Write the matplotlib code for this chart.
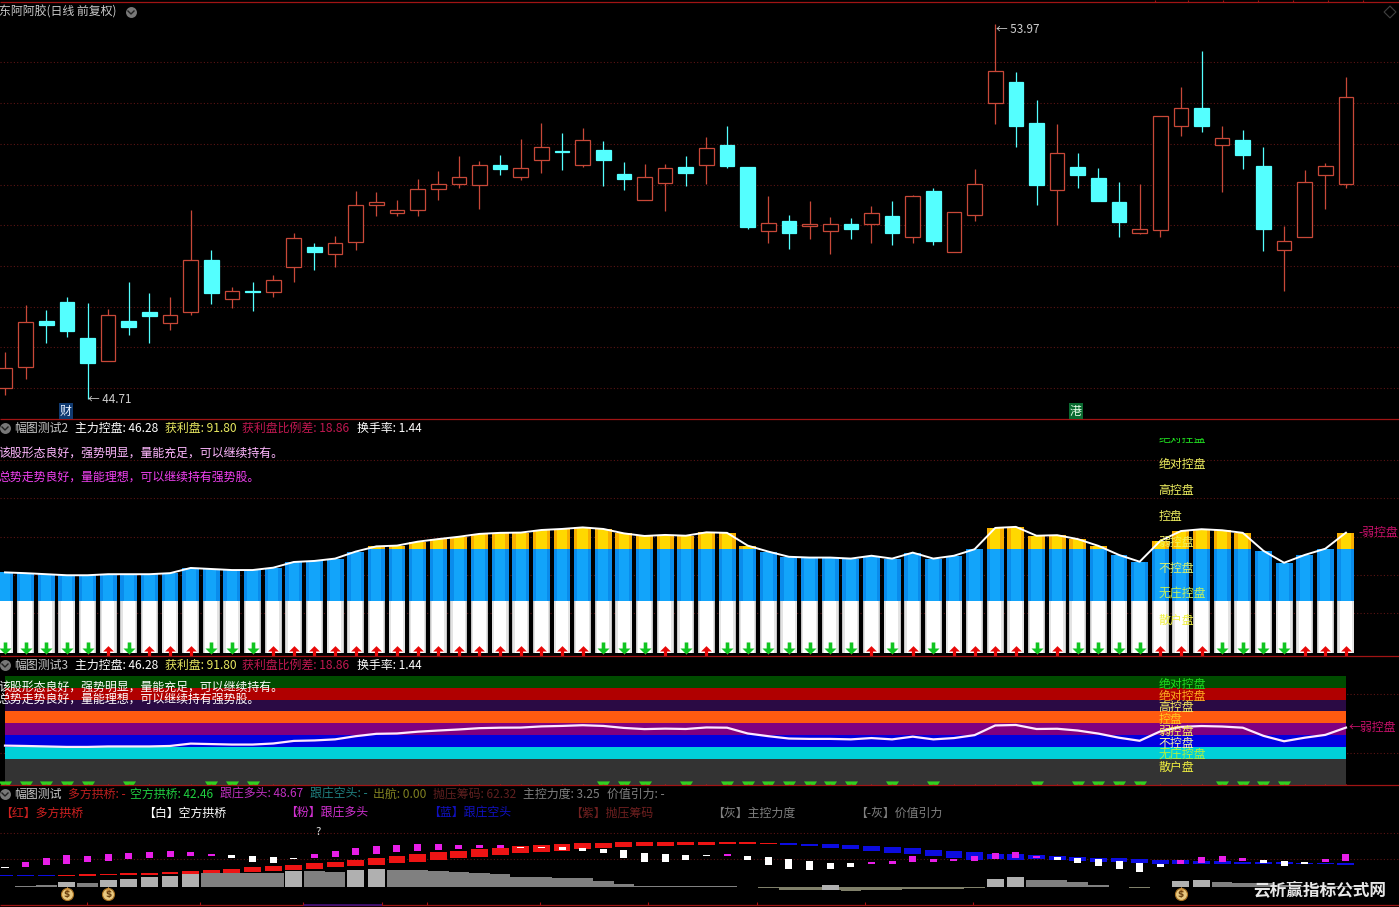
import matplotlib

matplotlib.use("Agg")
import matplotlib.pyplot as plt
import numpy as np
from matplotlib.path import Path
from matplotlib.transforms import Bbox, ScaledTranslation

plt.rcParams["font.family"] = ["Noto Sans CJK SC", "DejaVu Sans"]
plt.rcParams["axes.unicode_minus"] = False

# daily candles, top and bottom of the body plus wicks
body_top = [45.47, 46.61, 46.64, 47.10, 46.21, 46.78, 46.63, 46.86, 46.78, 48.14, 48.14, 47.37, 47.37, 47.65, 48.68,
            48.46, 48.56, 49.50, 49.58, 49.37, 49.89, 50.01, 50.19, 50.48, 50.49, 50.41, 50.93, 50.83, 51.10, 50.85,
            50.26, 50.19, 50.41, 50.43, 50.90, 50.98, 50.43, 49.05, 49.10, 49.03, 49.03, 49.03, 49.30, 49.23, 49.72,
            49.85, 49.32, 50.01, 52.80, 52.53, 51.52, 50.79, 50.43, 50.16, 49.57, 48.90, 51.69, 51.89, 51.89, 51.15,
            51.10, 50.47, 48.61, 50.06, 50.46, 52.16]
body_bot = [44.98, 45.50, 46.53, 46.40, 45.61, 45.65, 46.48, 46.75, 46.58, 46.85, 47.34, 47.18, 47.36, 47.36, 47.97,
            48.33, 48.30, 48.58, 49.49, 49.30, 49.37, 49.89, 50.01, 50.00, 50.40, 50.20, 50.62, 50.82, 50.50, 50.62,
            50.13, 49.63, 50.05, 50.28, 50.50, 50.47, 48.97, 48.87, 48.80, 48.99, 48.87, 48.92, 49.02, 48.82, 48.72,
            48.62, 48.33, 49.26, 52.01, 51.44, 50.00, 49.88, 50.25, 49.61, 49.07, 48.80, 48.89, 51.44, 51.46, 50.99,
            50.74, 48.92, 48.38, 48.70, 50.24, 50.01]
highs = [45.88, 47.04, 46.91, 47.22, 47.08, 46.94, 47.59, 47.34, 47.22, 49.38, 48.38, 47.48, 47.59, 47.78, 48.82,
         48.57, 48.74, 49.85, 49.81, 49.63, 50.15, 50.33, 50.70, 50.59, 50.74, 51.13, 51.52, 51.27, 51.40, 51.07,
         50.57, 50.51, 50.52, 50.72, 51.19, 51.44, 50.43, 49.73, 49.26, 49.59, 49.20, 49.18, 49.48, 49.61, 49.75,
         49.93, 49.34, 50.38, 53.97, 52.79, 52.09, 51.50, 50.79, 50.41, 50.08, 50.01, 51.69, 52.41, 53.29, 51.44,
         51.35, 50.92, 48.99, 50.37, 50.53, 52.66]
lows = [44.82, 45.21, 46.10, 46.25, 44.71, 45.65, 46.30, 46.09, 46.42, 46.79, 47.07, 46.97, 46.89, 47.22, 47.60,
        47.90, 47.98, 48.38, 49.22, 49.22, 49.22, 49.63, 49.93, 49.41, 50.24, 50.12, 50.29, 50.37, 50.45, 49.97,
        49.87, 49.63, 49.36, 49.97, 50.02, 50.42, 48.91, 48.56, 48.41, 48.66, 48.29, 48.66, 48.56, 48.51, 48.56,
        48.51, 48.33, 49.11, 51.50, 50.92, 49.50, 49.01, 49.92, 49.60, 48.71, 48.78, 48.71, 51.21, 51.30, 49.81,
        50.39, 48.37, 47.38, 48.70, 49.41, 49.93]
falling = [2, 3, 4, 6, 7, 10, 12, 15, 24, 27, 29, 30, 33, 35, 36, 38, 41, 43, 45, 49, 50, 52, 53, 54, 58, 60, 61]
price_grid = [53.02, 52.01, 51.00, 50.00, 49.00, 47.99, 46.99, 45.99, 44.99]

# main force control line shared by the two middle panes
control = [31.0, 30.7, 30.3, 29.9, 29.9, 30.3, 30.3, 30.3, 30.7, 32.7, 32.3, 31.9, 31.9, 32.8, 35.0, 35.4, 36.3, 39.0,
           41.0, 41.3, 42.8, 43.8, 44.7, 45.8, 46.2, 46.3, 47.3, 47.7, 48.3, 47.7, 46.0, 45.0, 45.4, 45.1, 46.4, 46.2,
           41.3, 39.0, 37.0, 36.7, 36.7, 36.3, 37.4, 36.3, 38.6, 36.3, 37.4, 39.9, 48.1, 48.5, 45.1, 45.3, 43.8, 41.2,
           37.7, 35.1, 43.1, 46.9, 47.6, 47.2, 46.2, 39.3, 34.7, 37.7, 40.1, 46.28]
green_days = [0, 1, 2, 3, 4, 6, 10, 11, 12, 29, 30, 31, 33, 35, 36, 37, 38, 39, 40, 41, 43, 45, 50, 52, 53, 54, 55, 59,
              60, 61, 62]
level_values = [80, 70, 60, 50, 40, 30, 20, 10]
level_names = ["绝对控盘", "绝对控盘", "高控盘", "控盘", "弱控盘", "不控盘", "无庄控盘", "散户盘"]
level_colors2 = ["#20e020", "#f0f060", "#f0f060", "#f0f060", "#f0f060", "#d8f070", "#c0f060", "#f0f040"]
level_colors3 = ["#20e020", "#ffb020", "#f8f060", "#ffc820", "#f8f060", "#f8f8a0", "#b0f040", "#f0f040"]
band_edges = [90, 80, 70, 60, 50, 40, 30, 20, -2]
band_colors = ["#004c00", "#b00000", "#2a0a44", "#ff5a10", "#800080", "#0000e0", "#00d0d8", "#333333"]

# bottom pane
bridge_high = [24.0, 23.3, 23.3, 23.3, 26.0, 25.3, 27.3, 26.7, 29.3, 31.3, 33.3, 35.3, 39.3, 41.3, 43.3, 47.3, 49.3,
               53.3, 56.7, 61.3, 64.7, 68.7, 71.3, 74.7, 78.0, 81.3, 83.3, 85.3, 87.3, 87.3, 89.3, 90.0, 90.0, 89.3,
               89.3, 89.3, 89.3, 87.3, 87.3, 85.3, 85.3, 83.3, 81.3, 79.3, 77.3, 73.3, 71.3, 69.3, 66.0, 64.7, 63.3,
               61.3, 59.3, 57.3, 56.7, 55.3, 53.3, 52.7, 51.3, 51.3, 49.3, 48.7, 48.7, 48.0, 47.3, 46.7]
bridge_low = [22.0, 22.0, 22.0, 22.0, 21.3, 23.3, 23.3, 22.7, 25.3, 25.3, 27.3, 27.3, 29.3, 30.7, 33.3, 35.3, 39.3,
              41.3, 43.3, 47.3, 50.0, 53.3, 56.7, 59.3, 63.3, 66.7, 69.3, 72.0, 75.3, 77.3, 79.3, 81.3, 81.3, 83.3,
              83.3, 85.3, 86.0, 85.3, 83.3, 82.0, 77.3, 75.3, 71.3, 67.3, 65.3, 61.3, 57.3, 53.3, 55.3, 54.0, 55.3,
              54.0, 51.3, 49.3, 48.7, 47.3, 45.3, 45.3, 46.0, 46.0, 46.0, 46.0, 45.3, 44.7, 44.7, 44.0]
blue_days = [0, 1, 2] + list(range(38, 66))
follow_high = [40.0, 49.3, 56.7, 63.3, 61.3, 65.3, 67.3, 69.3, 71.3, 70.0, 65.3, 63.3, 61.3, 59.3, 58.0, 65.3, 71.3,
               77.3, 81.3, 83.3, 85.3, 85.3, 83.3, 83.3, 83.3, 80.0, 80.0, 79.3, 77.3, 75.3, 73.3, 67.3, 65.3, 63.3,
               63.3, 65.3, 61.3, 59.3, 55.3, 51.3, 47.3, 47.3, 49.3, 51.3, 61.3, 55.3, 55.3, 61.3, 67.3, 69.3, 61.3,
               60.0, 57.3, 55.3, 51.3, 47.3, 45.3, 53.3, 59.3, 61.3, 57.3, 53.3, 51.3, 49.3, 55.3, 65.3]
follow_low = [36.7, 39.3, 43.3, 45.3, 49.3, 51.3, 55.3, 57.3, 59.3, 61.3, 61.3, 57.3, 49.3, 47.3, 56.0, 57.3, 59.3,
              63.3, 65.3, 69.3, 71.3, 73.3, 75.3, 77.3, 77.3, 78.0, 78.0, 73.3, 71.3, 67.3, 57.3, 49.3, 49.3, 53.3,
              61.3, 61.3, 53.3, 43.3, 35.3, 33.3, 35.3, 39.3, 45.3, 45.3, 49.3, 49.3, 51.3, 51.3, 55.3, 57.3, 57.3,
              53.3, 47.3, 41.3, 35.3, 29.3, 39.3, 45.3, 47.3, 49.3, 51.3, 47.3, 41.3, 45.3, 49.3, 51.3]
white_days = [0, 11, 12, 13, 14] + list(range(25, 35)) + [36, 37, 38, 39, 40, 41, 51, 52, 53, 54, 55, 56, 61, 62, 63]
power_high = [0, 0.5, 3.3, 10.0, 8.0, 13.3, 15.3, 20.0, 22.0, 26.7, 28.0, 28.0, 28.0, 26.7, 31.3, 31.3, 30.0, 33.3,
              35.3, 33.3, 33.3, 31.3, 28.7, 26.7, 25.3, 20.0, 20.0, 18.0, 16.7, 11.3, 6.0, 2.0, 1.3, 0.5, 0.5, 0.5, 0,
              0, 0, 0, 3.3, 0, 0, 0, 0, 0, 0, 0, 15.3, 19.3, 13.3, 13.3, 8.7, 3.3, 0, 0, 0, 12.0, 13.3, 10.0, 8.0, 6.7,
              3.3, 1.3, 0.5, 0.5]
power_low = [-1.3, 0, 0, 0, 0, 0, 0, 0, 0, 0, 0, 0, 0, 0, 0, 0, 0, 0, 0, 0, 0, 0, 0, 0, 0, 0, 0, 0, 0, 0, 0, 0, 0, 0, 0,
             0, -1.3, -3.3, -6.0, -7.3, -7.3, -8.0, -6.7, -6.7, -4.7, -4.7, -4.7, -2.0, 0, 0, 0, 0, 0, 0, -1.3, -3.3,
             -1.3, 0, 0, 0, 0, 0, 0, 0, 0, 0]
bright_days = [3, 5, 6, 7, 8, 9, 14, 17, 18, 40, 48, 49, 57, 58]
bag_days = [3, 5, 57]

# header texts: x pixel, text, colour
title_items = [(-1, "东阿阿胶(日线 前复权)", "#c8c8c8")]
control_items = [(75, "主力控盘: 46.28", "#ffffff"), (165, "获利盘: 91.80", "#e8e860"),
                 (242, "获利盘比例差: 18.86", "#c01850"), (357, "换手率: 1.44", "#ffffff")]
bottom_items = [(14, "幅图测试", "#c8c8c8"), (68, "多方拱桥: -", "#c02020"), (130, "空方拱桥: 42.46", "#20d040"),
                (220, "跟庄多头: 48.67", "#c030c0"), (310, "跟庄空头: -", "#208080"), (373, "出航: 0.00", "#808020"),
                (433, "抛压筹码: 62.32", "#602020"), (523, "主控力度: 3.25", "#808080"),
                (607, "价值引力: -", "#808080")]
legend_items = [(0, "【红】多方拱桥", "#d02020"), (143, "【白】空方拱桥", "#ffffff"), (285, "【粉】跟庄多头", "#d030d0"),
                (428, "【蓝】跟庄空头", "#1010c0"), (570, "【紫】抛压筹码", "#702020"), (712, "【灰】主控力度", "#808080"),
                (855, "【-灰】价值引力", "#808080")]

WIDTH, HEIGHT = 1399, 907
RED_LINE = "#a01414"
GRID = "#5a1414"
days = np.arange(len(control))
fig = plt.figure(figsize=(WIDTH / 100, HEIGHT / 100), dpi=100, facecolor="black")


def make_pane(top, bottom, ymin, ymax):
    ax = fig.add_axes([0, 1 - bottom / HEIGHT, 1, (bottom - top) / HEIGHT], facecolor="black")
    ax.set_xlim(-5 / 20.63, (WIDTH - 5) / 20.63)
    ax.set_ylim(ymin, ymax)
    ax.axis("off")
    return ax


def dotted(ax, levels):
    ax.hlines(levels, *ax.get_xlim(), colors=GRID, linewidth=0.8, linestyles=(0, (1, 2)), zorder=0)


def level_labels(ax, colors, lift_px):
    offset = ScaledTranslation(0, lift_px / 100, fig.dpi_scale_trans)
    out = []
    for value, name, color in zip(level_values, level_names, colors):
        out.append(ax.text(55.9, value, name, color=color, fontsize=8.6, va="center", zorder=8,
                           transform=ax.transData + offset))
    return out


# price pane
ax1 = make_pane(2, 419, 44.22, 54.51)
dotted(ax1, price_grid)
for i in days:
    down = i in falling
    color = "#54ffff" if down else "#c84838"
    ax1.vlines(i, lows[i], highs[i], color=color, linewidth=0.9, zorder=2)
    ax1.bar(i, body_top[i] - body_bot[i], bottom=body_bot[i], width=0.71, facecolor=color if down else "black",
            edgecolor=color, linewidth=0.9, zorder=3)
ax1.text(4.02, 44.71, "← 44.71", color="#d0d0d0", fontsize=8.4, va="center")
ax1.text(48.05, 53.84, "← 53.97", color="#d0d0d0", fontsize=8.4, va="center")

# control bars
ax2 = make_pane(420, 655, -0.77, 89.6)
dotted(ax2, [74.2, 59.6, 44.6, 30, 15.4])
control_arr = np.array(control)
for w, c in [(0.82, "#c4c4c4"), (0.74, "#e4e4e4"), (0.6, "#ffffff")]:
    ax2.bar(days, 20, width=w, color=c, zorder=2)
ax2.bar(days, np.minimum(control_arr, 40) - 20, bottom=20, width=0.82, color="#0a8cec", zorder=2)
ax2.bar(days, np.minimum(control_arr, 40) - 20, bottom=20, width=0.5, color="#12a4fa", zorder=2)
over = control_arr > 40
ax2.bar(days[over], control_arr[over] - 40, bottom=40, width=0.82, color="#f8ae00", zorder=2)
ax2.bar(days[over], control_arr[over] - 40, bottom=40, width=0.5, color="#ffd800", zorder=2)
ax2.plot(days, control, color="white", linewidth=1.4, zorder=4)

down_arrow = Path([(-0.3, 1), (0.3, 1), (0.3, 0), (1, 0), (0, -1), (-1, 0), (-0.3, 0), (-0.3, 1)], closed=True)
up_arrow = Path([(-0.3, -1), (0.3, -1), (0.3, 0), (1, 0), (0, 1), (-1, 0), (-0.3, 0), (-0.3, -1)], closed=True)
trapezoid = Path([(-1, 0.32), (1, 0.32), (0.6, -0.32), (-0.6, -0.32), (-1, 0.32)], closed=True)
is_green = np.isin(days, green_days)
ax2.scatter(days[is_green], np.full(is_green.sum(), 2.1), marker=down_arrow, s=75, color="#10c420", linewidths=0, zorder=5)
ax2.scatter(days[~is_green], np.full((~is_green).sum(), 0.7), marker=up_arrow, s=60, color="#e80808", linewidths=0, zorder=5)
ax2.text(65.6, control[-1], "-弱控盘", color="#c8106a", fontsize=8.6, va="center")
ax2.vlines(days, -0.77, -0.2, color="#d02020", linewidth=0.8, zorder=6)
for k, t in enumerate(level_labels(ax2, level_colors2, 6.5)):
    if k == 0:
        # topmost label is cut off by the pane's drawing window
        t.set_clip_box(Bbox([[0, HEIGHT - 655], [WIDTH, HEIGHT - 438]]))
        t.set_clip_on(True)

# band pane
ax3 = make_pane(656, 785, -2.4, 107.0)
dotted(ax3, [74.7, 24.7])
for hi, lo, c in zip(band_edges[:-1], band_edges[1:], band_colors):
    ax3.fill_between([days[0], days[-1]], lo, hi, color=c, linewidth=0, zorder=1)
ax3.plot(days, control, color="#ffe8ff", linewidth=1.6, zorder=4)
ax3.scatter(days[is_green], np.full(is_green.sum(), -0.6), marker=trapezoid, s=88, color="#30d020", linewidths=0, zorder=5)
ax3.text(65.15, control[-1], "←弱控盘", color="#c8106a", fontsize=8.6, va="center")
ax3.vlines(days, -2.4, -1.4, color="#d02020", linewidth=0.8, zorder=6)
level_labels(ax3, level_colors3, 3.5)

# bottom pane
ax4 = make_pane(786, 905, -36.6, 201.4)
dotted(ax4, [108, 55.4])
bright = np.isin(days, bright_days)
p_hi, p_lo = np.array(power_high), np.array(power_low)
ax4.bar(days[~bright], np.maximum(p_hi[~bright], 0), width=1.0, color="#808080", zorder=1)
ax4.bar(days, np.minimum(p_lo, 0), width=1.0, color="#80806a", zorder=1)
ax4.bar(days[bright], p_hi[bright] - p_lo[bright], bottom=p_lo[bright], width=0.82, color="#b0b0b0", zorder=2)

is_blue = np.isin(days, blue_days)
b_hi, b_lo = np.array(bridge_high), np.array(bridge_low)
ax4.bar(days[~is_blue], (b_hi - b_lo)[~is_blue], bottom=b_lo[~is_blue], width=0.82, color="#ee1414", zorder=3)
ax4.bar(days[is_blue], (b_hi - b_lo)[is_blue], bottom=b_lo[is_blue], width=0.82, color="#0c0ce0", zorder=3)

is_white = np.isin(days, white_days)
f_hi, f_lo = np.array(follow_high), np.array(follow_low)
ax4.bar(days[is_white], (f_hi - f_lo)[is_white], bottom=f_lo[is_white], width=0.34, color="white", zorder=4)
ax4.bar(days[~is_white], (f_hi - f_lo)[~is_white], bottom=f_lo[~is_white], width=0.34, color="#e81ee8", zorder=4)

ax4.scatter(bag_days, [-15.5] * len(bag_days), s=75, color="#e8c880", edgecolors="#a87020", linewidths=0.8, zorder=5)
ax4.scatter(bag_days, [-5.5] * len(bag_days), s=16, marker="^", color="#c89040", linewidths=0, zorder=5)
for d in bag_days:
    ax4.text(d, -15.5, "$", color="#6a4010", fontsize=6.5, fontweight="bold", ha="center", va="center",
             family="DejaVu Sans", zorder=6)

# overlay in pixel coordinates for separators, headers and legends
over_ax = fig.add_axes([0, 0, 1, 1], facecolor="none", zorder=10)
over_ax.set_xlim(0, WIDTH)
over_ax.set_ylim(HEIGHT, 0)
over_ax.axis("off")
over_ax.hlines([2, 419, 655.5, 785, 904.5], 0, WIDTH, colors=RED_LINE, linewidth=0.9)
over_ax.hlines([904.5], 303, 382, colors="#401080", linewidth=1.2)
over_ax.vlines([87, 200, 303, 382, 427, 540, 648, 757, 865, 973], 902, 905, colors=RED_LINE, linewidth=0.8)
over_ax.vlines([1155, 1188, 1223, 1258, 1293, 1328, 1363], 0, 2, colors=RED_LINE, linewidth=0.8)
over_ax.scatter([131, 5, 5, 5], [12, 428, 665, 794], s=62, color="#787878", linewidths=0)
for x, y in [(131, 12), (5, 428), (5, 665), (5, 794)]:
    over_ax.plot([x - 3, x, x + 3], [y - 1, y + 2, y - 1], color="#202020", linewidth=1.0)
over_ax.scatter([1390], [12], marker="D", s=36, facecolors="none", edgecolors="#404040", linewidths=0.8)


def put(x, y, text, color, size=8.6, **kw):
    over_ax.text(x, y, text, color=color, fontsize=size, va="center", **kw)


for x, text, color in title_items:
    put(x, 12, text, color)
put(14, 428, "幅图测试2", "#c8c8c8")
put(14, 665, "幅图测试3", "#c8c8c8")
for y in (428, 665):
    for x, text, color in control_items:
        put(x, y, text, color)
for x, text, color in bottom_items:
    put(x, 794, text, color)
for x, text, color in legend_items:
    put(x, 813, text, color)
put(-2, 453, "该股形态良好，强势明显，量能充足，可以继续持有。", "#ffb8ff")
put(-2, 477, "总势走势良好，量能理想，可以继续持有强势股。", "#f040f0")
put(-2, 687, "该股形态良好，强势明显，量能充足，可以继续持有。", "#ffffff")
put(-2, 699, "总势走势良好，量能理想，可以继续持有强势股。", "#ffffff")
put(315, 832, "?", "#e0e0e0", size=8)
over_ax.text(66, 411, "财", color="#e8f0ff", fontsize=8.6, ha="center", va="center",
             bbox=dict(facecolor="#103a70", edgecolor="none", pad=0.8))
over_ax.text(1076, 411, "港", color="#e8ffe8", fontsize=8.6, ha="center", va="center",
             bbox=dict(facecolor="#0a6a30", edgecolor="none", pad=0.8))
over_ax.text(1320, 890, "云析赢指标公式网", color="#e8e8e8", fontsize=12, fontweight="bold", ha="center", va="center")

fig.savefig("out.png", dpi=100, facecolor="black")
